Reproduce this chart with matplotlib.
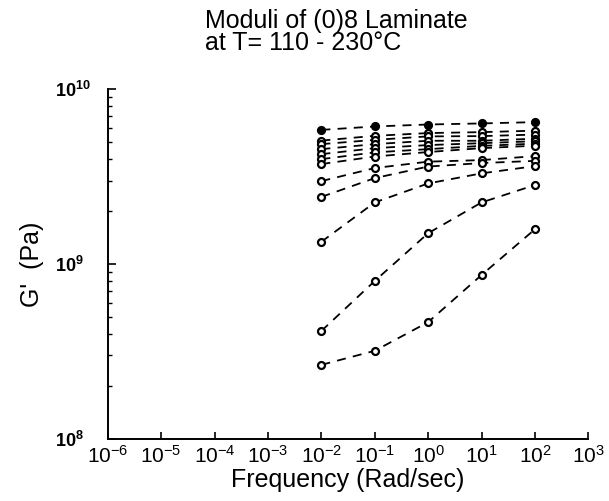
"""G' of (0)8 laminate vs frequency, T = 110-230 C."""
import numpy as np
import matplotlib
matplotlib.use("Agg")
import matplotlib.pyplot as plt
from matplotlib.ticker import LogLocator, LogFormatterMathtext, NullLocator

plt.rcParams["font.family"] = ["Liberation Sans", "DejaVu Sans"]

freq = [1e-2, 1e-1, 1e0, 1e1, 1e2]

# storage modulus (Pa), one row per temperature
g1 = [5.85e9, 6.12e9, 6.28e9, 6.37e9, 6.48e9]
g2 = [5.08e9, 5.41e9, 5.61e9, 5.68e9, 5.79e9]
g3 = [4.85e9, 5.13e9, 5.37e9, 5.39e9, 5.50e9]
g4 = [4.54e9, 4.85e9, 5.07e9, 5.07e9, 5.21e9]
g5 = [4.25e9, 4.60e9, 4.79e9, 4.91e9, 5.04e9]
g6 = [3.98e9, 4.35e9, 4.54e9, 4.74e9, 4.88e9]
g7 = [3.73e9, 4.12e9, 4.37e9, 4.60e9, 4.75e9]
g8 = [2.98e9, 3.54e9, 3.85e9, 3.93e9, 4.14e9]
g9 = [2.42e9, 3.10e9, 3.61e9, 3.78e9, 3.89e9]
g10 = [1.34e9, 2.25e9, 2.89e9, 3.30e9, 3.63e9]
g11 = [4.14e8, 8.0e8, 1.50e9, 2.25e9, 2.83e9]
g12 = [2.65e8, 3.19e8, 4.65e8, 8.65e8, 1.58e9]
curves = [g1, g2, g3, g4, g5, g6, g7, g8, g9, g10, g11, g12]

fig = plt.figure(figsize=(6.09, 5.01), dpi=100)
ax = fig.add_axes([0.177, 0.124, 0.789, 0.698])

for i, g in enumerate(curves):
    face = "k" if i == 0 else "white"
    ax.plot(freq, g, color="k", lw=1.3, ls=(0, (5, 4)), marker="o", ms=5,
            mfc=face, mec="k", mew=1.6)

ax.set_xscale("log")
ax.set_yscale("log")
ax.set_xlim(1e-6, 1e3)
ax.set_ylim(1e8, 1e10)

for s in ["top", "right"]:
    ax.spines[s].set_visible(False)
for s in ["left", "bottom"]:
    ax.spines[s].set_linewidth(1.4)

ax.xaxis.set_major_locator(LogLocator(base=10, numticks=20))
ax.xaxis.set_minor_locator(NullLocator())
ax.xaxis.set_major_formatter(LogFormatterMathtext())
ax.yaxis.set_major_locator(LogLocator(base=10, numticks=5))
ax.yaxis.set_minor_locator(LogLocator(base=10, subs=np.arange(2, 10), numticks=5))
ax.yaxis.set_major_formatter(LogFormatterMathtext())

ax.tick_params(axis="x", which="major", direction="in", length=5, width=1.2,
               labelsize=15, pad=4)
ax.tick_params(axis="y", which="major", direction="in", length=6, width=1.2,
               labelsize=13, pad=38)
ax.tick_params(axis="y", which="minor", direction="in", length=3, width=1.0)
for lab in ax.get_yticklabels():
    lab.set_fontweight("bold")
    lab.set_horizontalalignment("left")

ax.set_xlabel("Frequency (Rad/sec)", fontsize=18, labelpad=1)
ax.set_ylabel("G'  (Pa)", fontsize=18, labelpad=8)

fig.text(0.337, 0.982, "Moduli of (0)8 Laminate\nat T= 110 - 230\u00b0C",
         ha="left", va="top", fontsize=18, linespacing=0.88)

fig.savefig("out.png", dpi=100)
